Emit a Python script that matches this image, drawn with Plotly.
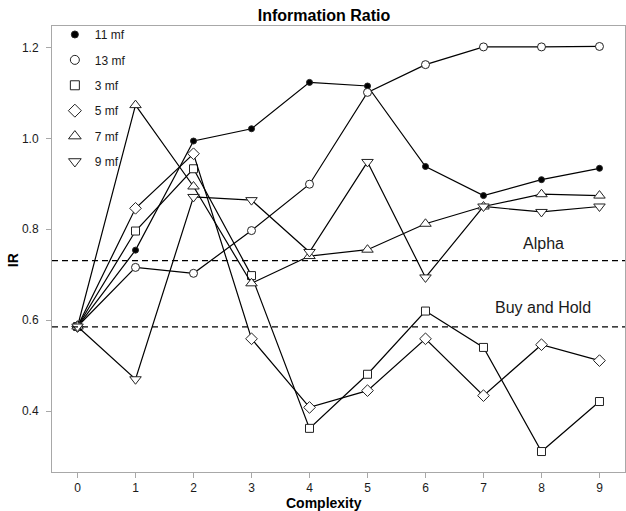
import plotly.graph_objects as go

# Information ratio by model complexity for each membership-function count
complexity = [0, 1, 2, 3, 4, 5, 6, 7, 8, 9]
mf11 = [0.586, 0.754, 0.994, 1.021, 1.123, 1.115, 0.938, 0.874, 0.909, 0.934]
mf13 = [0.586, 0.716, 0.703, 0.797, 0.899, 1.101, 1.162, 1.201, 1.201, 1.202]
mf3 = [0.586, 0.796, 0.933, 0.698, 0.362, 0.481, 0.620, 0.540, 0.311, 0.421]
mf5 = [0.586, 0.846, 0.966, 0.559, 0.408, 0.445, 0.559, 0.434, 0.546, 0.511]
mf7 = [0.586, 1.073, 0.894, 0.681, 0.741, 0.755, 0.812, 0.850, 0.877, 0.874]
mf9 = [0.586, 0.470, 0.871, 0.864, 0.750, 0.948, 0.694, 0.850, 0.838, 0.850]

series_names = ["11 mf", "13 mf", "3 mf", "5 mf", "7 mf", "9 mf"]
series_values = [mf11, mf13, mf3, mf5, mf7, mf9]

# Benchmark levels
alpha_level = 0.731
buy_hold_level = 0.585

y_ticks = [0.4, 0.6, 0.8, 1.0, 1.2]
y_tick_text = ["0.4", "0.6", "0.8", "1.0", "1.2"]

symbols = ["circle", "circle", "square", "diamond", "triangle-up", "triangle-down"]
filled = [True, False, False, False, False, False]
sizes = [6, 8, 8, 9, 10, 10]
legend_sizes = [7, 9, 9, 10, 11, 11]

FONT = "Arial, Liberation Sans, sans-serif"
INK = "#1a1a1a"
FRAME = "#a8a8a8"


def marker_style(sym, sz, solid):
    return dict(symbol=sym, size=sz, color="black" if solid else "white",
                line=dict(color="#222", width=1))


fig = go.Figure()

for name, vals, sym, sz, solid in zip(series_names, series_values, symbols, sizes, filled):
    fig.add_trace(go.Scatter(
        x=complexity, y=vals, mode="lines+markers", name=name,
        showlegend=False,
        line=dict(color="black", width=1.2),
        marker=marker_style(sym, sz, solid),
    ))

# marker-only legend entries
for name, sym, sz, solid in zip(series_names, symbols, legend_sizes, filled):
    fig.add_trace(go.Scatter(
        x=[None], y=[None], mode="markers", name=name, legendgroup=name,
        marker=marker_style(sym, sz, solid),
    ))

for lvl in (alpha_level, buy_hold_level):
    fig.add_shape(type="line", xref="paper", x0=0, x1=1, yref="y", y0=lvl, y1=lvl,
                  line=dict(color="black", width=1.3, dash="6px,4px"))

fig.add_annotation(x=8.03, y=0.769, xref="x", yref="y", text="Alpha", showarrow=False,
                   font=dict(family=FONT, size=16, color=INK))
fig.add_annotation(x=8.03, y=0.628, xref="x", yref="y", text="Buy and Hold", showarrow=False,
                   font=dict(family=FONT, size=16, color=INK))

fig.add_annotation(x=0.474, y=-0.070, xref="paper", yref="paper", text="<b>Complexity</b>",
                   showarrow=False, yanchor="middle",
                   font=dict(family=FONT, size=14, color="black"))
fig.add_annotation(x=-0.068, y=0.475, xref="paper", yref="paper", text="<b>IR</b>",
                   showarrow=False, textangle=-90, xanchor="center", yanchor="middle",
                   font=dict(family=FONT, size=14, color="black"))

fig.update_layout(
    width=626, height=511,
    margin=dict(l=52, r=1, t=26, b=39),
    paper_bgcolor="white", plot_bgcolor="white",
    font=dict(family=FONT, color=INK),
    title=dict(text="<b>Information Ratio</b>", x=324 / 626, xref="container",
               xanchor="center", y=1 - 15.7 / 511, yanchor="middle",
               font=dict(family=FONT, size=16, color="black")),
    legend=dict(x=0.005, y=1.0135, xanchor="left", yanchor="top", bgcolor="rgba(0,0,0,0)",
                font=dict(family=FONT, size=12, color=INK), traceorder="grouped",
                tracegroupgap=6.4, itemwidth=30),
    xaxis=dict(range=[-0.44, 9.44], tickvals=complexity, showgrid=False, zeroline=False,
               showline=True, linecolor=FRAME, linewidth=1, mirror=True,
               ticks="outside", ticklen=5, tickcolor=FRAME,
               tickfont=dict(family=FONT, size=12, color=INK)),
    yaxis=dict(range=[0.266, 1.247], tickvals=y_ticks, ticktext=y_tick_text,
               showgrid=False, zeroline=False,
               showline=True, linecolor=FRAME, linewidth=1, mirror=True,
               ticks="outside", ticklen=5, tickcolor=FRAME, ticklabelstandoff=5,
               tickfont=dict(family=FONT, size=12, color=INK)),
)

fig.write_html("out.html")
